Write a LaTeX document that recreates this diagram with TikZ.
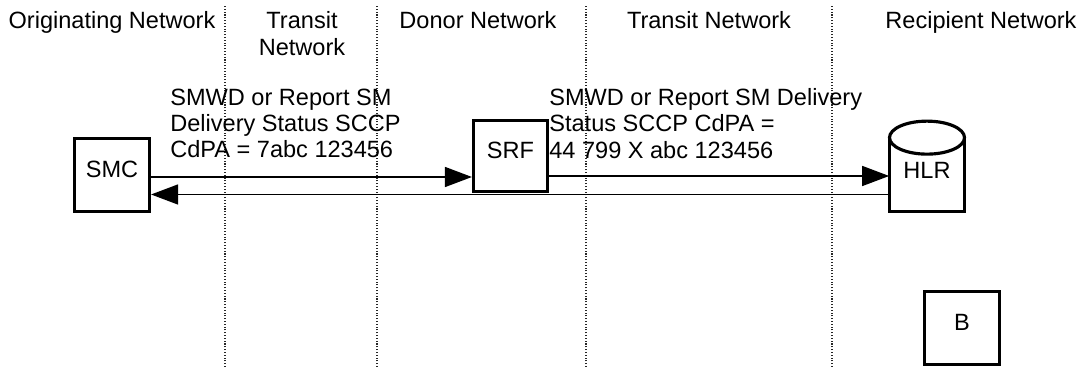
\documentclass[tikz,border=0pt]{standalone}
\usepackage{fontspec}
\setmainfont{Liberation Sans}
\usepackage{tikz}
\usetikzlibrary{arrows.meta}
\usetikzlibrary{positioning}

\begin{document}
\begin{tikzpicture}[
       font=\fontsize{13.4pt}{15pt}\selectfont,
       box/.style={draw, line width=1.8pt, minimum width=1.5cm, minimum height=1.46cm, inner sep=0pt, text depth=0.22cm},
       msg/.style={line width=0.85pt, -{Triangle[length=0.54cm,width=0.4cm]}},
       border/.style={densely dotted, line width=0.6pt, black!85},
       txt/.style={align=left, anchor=west, inner sep=0pt}]
       \useasboundingbox (0,0) rectangle (21.68,7.34);
       % network borders
       \foreach \x in {4.5,7.54,11.72,16.64}
              \draw[border] (\x,0) -- (\x,7.24);
       \node[anchor=base] (orig) at (2.24,6.77) {Originating Network};
       \node[align=center, inner sep=0pt] (transitA) at (6.04,6.67) {Transit\\Network};
       \node[anchor=base] (donor) at (9.56,6.77) {Donor Network};
       \node[anchor=base] (transitB) at (14.18,6.77) {Transit Network};
       \node[anchor=base] (recip) at (19.62,6.77) {Recipient Network};
       % elements
       \node[box] (smc) at (2.24,3.84) {SMC};
       \node[box, minimum width=1.48cm, minimum height=1.42cm] (srf) at (10.21,4.22) {SRF};
       \node[inner sep=0pt, minimum width=1.5cm, minimum height=1.8cm, text height=0.48cm] (hlr) at (18.54,4.01) {HLR};
       \draw[line width=1.8pt] ([yshift=-0.33cm]hlr.north west) -- (hlr.south west) -- (hlr.south east) -- ([yshift=-0.33cm]hlr.north east);
       \draw[line width=1.8pt] ([yshift=-0.33cm]hlr.north) ellipse (0.75cm and 0.33cm);
       \node[box] (nodeB) at (19.24,0.78) {B};
       % messages
       \coordinate (smcout) at ([yshift=-0.04cm]smc.east);
       \coordinate (srfout) at ([yshift=-0.40cm]srf.east);
       \coordinate (hlrout) at ([yshift=-0.56cm]hlr.west);
       \draw[msg] (smcout) -- (smcout -| srf.west);
       \draw[msg] (srfout) -- (srfout -| hlr.west);
       \draw[msg] (hlrout) -- (hlrout -| smc.east);
       \node[txt] (msgA) at (3.4,4.87) {SMWD or Report SM\\Delivery Status SCCP\\CdPA = 7abc 123456};
       \node[txt] (msgB) at (10.98,4.87) {SMWD or Report SM Delivery\\Status SCCP CdPA =\\44 799 X abc 123456};
\end{tikzpicture}
\end{document}
